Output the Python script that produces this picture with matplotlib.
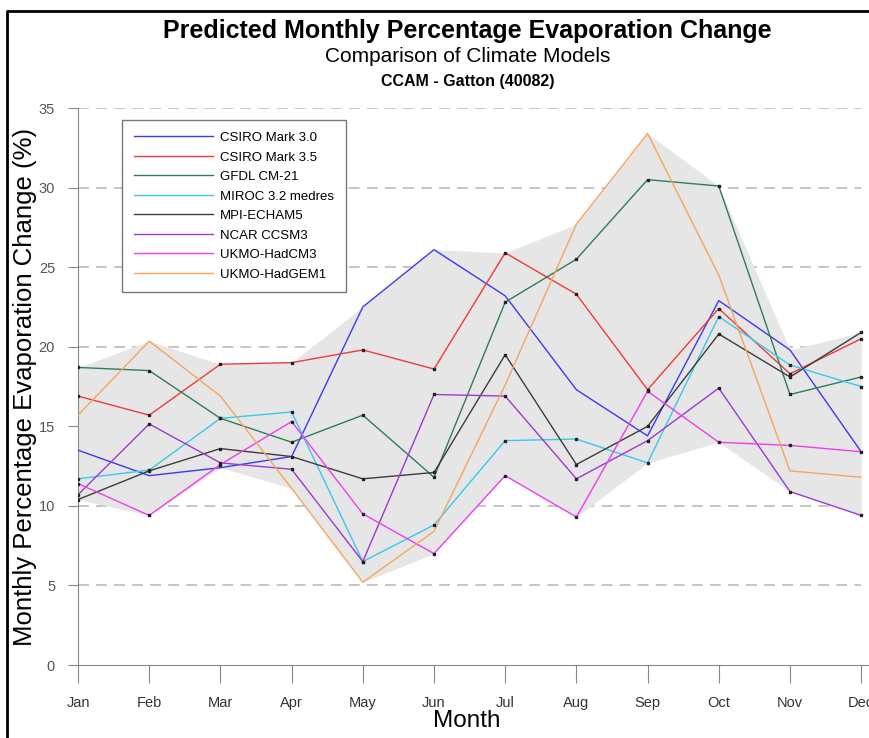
import matplotlib
matplotlib.use('Agg')
import matplotlib.pyplot as plt
import numpy as np

months = ['Jan', 'Feb', 'Mar', 'Apr', 'May', 'Jun', 'Jul', 'Aug', 'Sep', 'Oct', 'Nov', 'Dec']

models = ['CSIRO Mark 3.0', 'CSIRO Mark 3.5', 'GFDL CM-21', 'MIROC 3.2 medres',
          'MPI-ECHAM5', 'NCAR CCSM3', 'UKMO-HadCM3', 'UKMO-HadGEM1']

csiro30 = [13.5, 11.9, 12.4, 13.1, 22.5, 26.1, 23.2, 17.3, 14.4, 22.9, 19.8, 13.4]
csiro35 = [16.9, 15.7, 18.9, 19.0, 19.8, 18.6, 25.9, 23.3, 17.3, 22.4, 18.3, 20.5]
gfdl = [18.7, 18.5, 15.5, 14.0, 15.7, 11.8, 22.8, 25.5, 30.5, 30.1, 17.0, 18.1]
miroc = [11.7, 12.25, 15.5, 15.9, 6.5, 8.8, 14.1, 14.2, 12.7, 21.9, 18.85, 17.5]
mpi = [10.4, 12.2, 13.6, 13.1, 11.7, 12.1, 19.5, 12.6, 15.0, 20.8, 18.1, 20.9]
ncar = [10.7, 15.15, 12.7, 12.3, 6.5, 17.0, 16.9, 11.7, 14.1, 17.4, 10.9, 9.4]
hadcm3 = [11.4, 9.4, 12.6, 15.3, 9.5, 7.0, 11.9, 9.3, 17.2, 14.0, 13.8, 13.4]
hadgem1 = [15.7, 20.35, 16.9, 11.1, 5.2, 8.4, 17.6, 27.7, 33.4, 24.5, 12.2, 11.8]

series = [csiro30, csiro35, gfdl, miroc, mpi, ncar, hadcm3, hadgem1]
colors = ['#3a3af0', '#f03a3a', '#2e7d58', '#38c8ee', '#3c3c3c', '#9a3ad0', '#f03cf0', '#f5a55a']
with_dots = [False, True, True, True, True, True, True, False]

plt.rcParams['font.family'] = ['Liberation Sans', 'DejaVu Sans']

fig = plt.figure(figsize=(8.69, 7.38), dpi=100)
ax = fig.add_axes([0.0898, 0.0989, 0.9102, 0.7547])

x = np.arange(len(months))
data = np.array(series)

# dashed gridlines sit under the grey envelope
ax.hlines([5, 10, 15, 20, 25, 30, 35], 0, 11, colors='#c0c0c0', linestyles=(0, (6, 4)),
          linewidth=1.3, zorder=0)
ax.fill_between(x, data.min(axis=0), data.max(axis=0), color='#e6e6e6', linewidth=0, zorder=1)

for vals, name, c, dots in zip(series, models, colors, with_dots):
    ax.plot(x, vals, color=c, linewidth=1.0, label=name, zorder=3)
    if dots:
        ax.plot(x, vals, linestyle='none', marker='s', markersize=1.8, color='#222222', zorder=4)

ax.set_xlim(0, 11.11)
ax.set_ylim(0, 35)
ax.set_xticks(x)
ax.set_xticklabels(months)
ax.set_yticks([0, 5, 10, 15, 20, 25, 30, 35])
ax.tick_params(axis='x', direction='out', length=13, width=0.8, color='#888888',
               labelsize=10.5, labelcolor='#333333', pad=9)
ax.tick_params(axis='y', direction='out', length=7.5, width=0.8, color='#888888',
               labelsize=10.5, labelcolor='#555555', pad=9)
for s in ['top', 'right']:
    ax.spines[s].set_visible(False)
for s in ['left', 'bottom']:
    ax.spines[s].set_color('#888888')
    ax.spines[s].set_linewidth(0.8)

ax.set_xlabel('Month', fontsize=17.5)
ax.xaxis.set_label_coords(0.492, -0.080)
ax.set_ylabel('Monthly Percentage Evaporation Change (%)', fontsize=18.5, labelpad=1)

leg = ax.legend(loc='upper left', bbox_to_anchor=(0.1404, 0.8374), bbox_transform=fig.transFigure,
                fontsize=9.5, handlelength=6.0, handletextpad=0.5, labelspacing=0.55,
                borderpad=0.9, borderaxespad=0, fancybox=False, framealpha=1,
                edgecolor='#777777')
leg.get_frame().set_linewidth(1.0)

fig.text(0.538, 0.958, 'Predicted Monthly Percentage Evaporation Change', ha='center', va='center',
         fontsize=18, fontweight='bold')
fig.text(0.538, 0.923, 'Comparison of Climate Models', ha='center', va='center', fontsize=15)
fig.text(0.538, 0.890, 'CCAM - Gatton (40082)', ha='center', va='center',
         fontsize=11.5, fontweight='bold')

# outer frame (top and left edges)
fig.add_artist(plt.Line2D([0.008, 0.008, 1.0], [0.0, 0.985, 0.985], transform=fig.transFigure,
                          color='black', linewidth=2.0))

fig.savefig('out.png', dpi=100)
